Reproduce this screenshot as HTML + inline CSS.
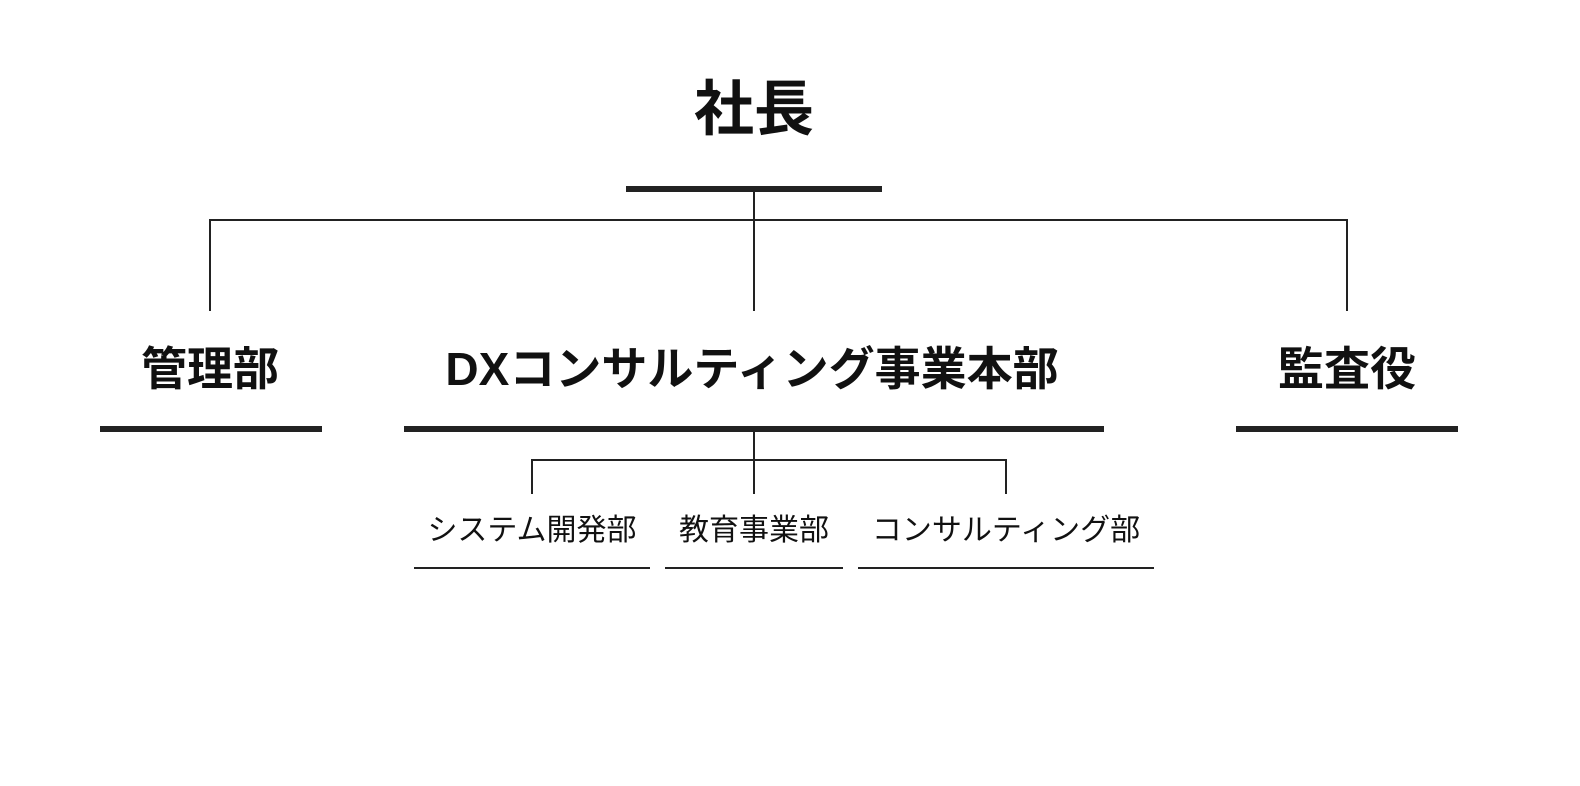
<!DOCTYPE html>
<html><head><meta charset="utf-8"><style>
html,body{margin:0;padding:0;background:#fff;width:1580px;height:786px;overflow:hidden}
svg text{font-family:"Liberation Sans","Noto Sans CJK JP",sans-serif;fill:#111}
</style></head><body>
<svg width="1580" height="786" viewBox="0 0 1580 786" xmlns="http://www.w3.org/2000/svg">
<text x="754" y="130" font-size="60" font-weight="bold" text-anchor="middle">社長</text>
<rect x="626" y="186" width="256" height="6" fill="#222"/>
<g stroke="#222" stroke-width="2" fill="none">
<line x1="754" y1="192" x2="754" y2="311"/>
<polyline points="210,311 210,220 1347,220 1347,311"/>
<line x1="754" y1="432" x2="754" y2="494"/>
<polyline points="532,494 532,460 1006,460 1006,494"/>
</g>
<text x="210" y="385" font-size="46" font-weight="bold" text-anchor="middle">管理部</text>
<text x="752" y="385" font-size="46" font-weight="bold" text-anchor="middle">DXコンサルティング事業本部</text>
<text x="1347" y="385" font-size="46" font-weight="bold" text-anchor="middle">監査役</text>
<rect x="100" y="426" width="222" height="6" fill="#222"/>
<rect x="404" y="426" width="700" height="6" fill="#222"/>
<rect x="1236" y="426" width="222" height="6" fill="#222"/>
<text x="532" y="540" font-size="30" text-anchor="middle">システム開発部</text>
<text x="754" y="540" font-size="30" text-anchor="middle">教育事業部</text>
<text x="1006" y="540" font-size="30" text-anchor="middle">コンサルティング部</text>
<g fill="#222">
<rect x="414" y="567" width="236" height="2"/>
<rect x="665" y="567" width="178" height="2"/>
<rect x="858" y="567" width="296" height="2"/>
</g>
</svg>
</body></html>
